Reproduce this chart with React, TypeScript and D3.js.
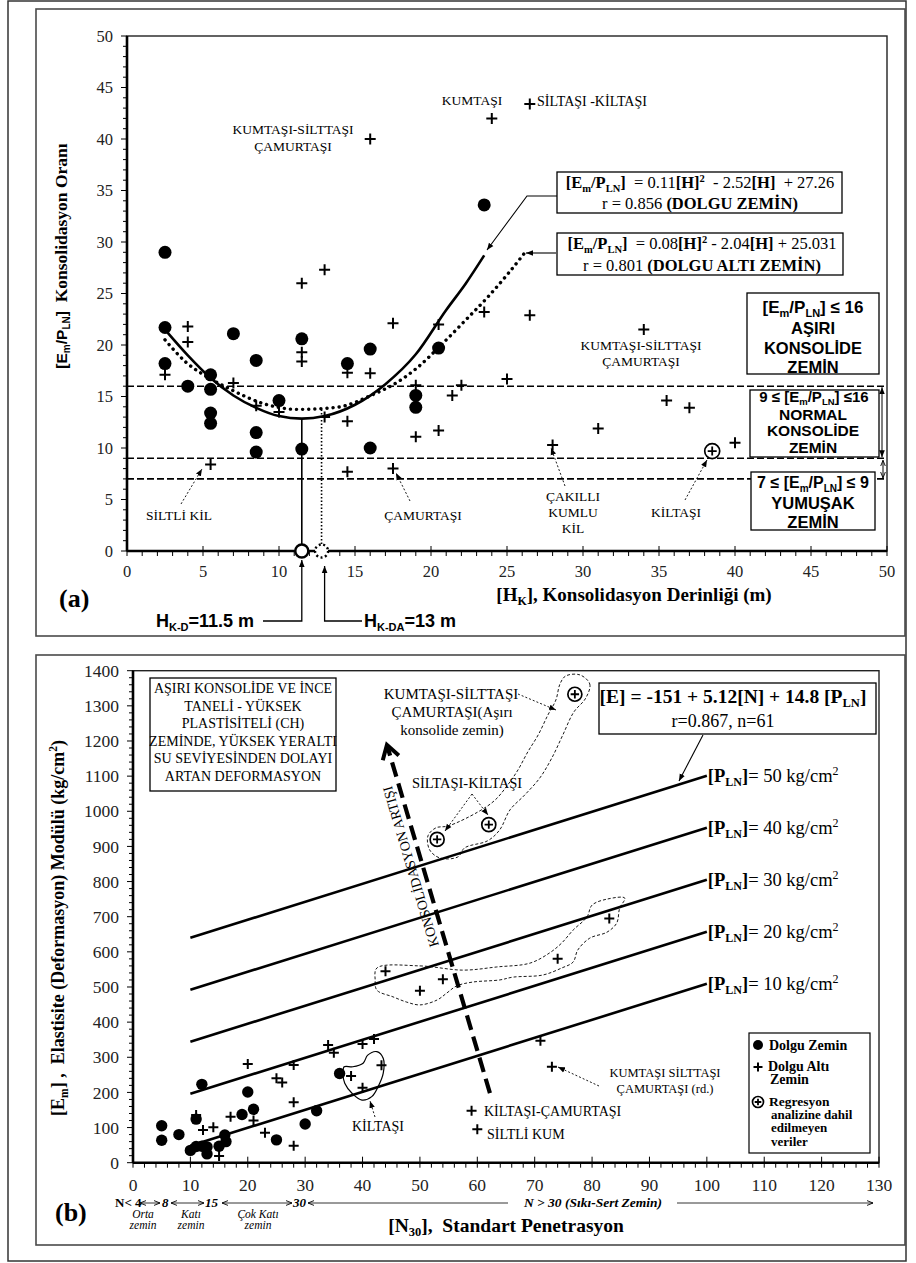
import React from "react";
import * as d3 from "d3";

// ---------------- Panel (a) data ----------------
const dolguA: [number, number][] = [
  [2.5, 29], [2.5, 21.7], [2.5, 18.2], [4, 16], [5.5, 17.1], [5.5, 15.7], [5.5, 13.4], [5.5, 12.4],
  [7, 21.1], [8.5, 18.5], [8.5, 11.5], [8.5, 9.6], [10, 14.6], [11.5, 20.6], [11.5, 9.9],
  [14.5, 18.2], [16, 19.6], [16, 10], [19, 15.1], [19, 13.95], [20.5, 19.7], [23.5, 33.6],
];
const dolguAltiA: [number, number][] = [
  [2.5, 17.1], [4, 21.8], [4, 20.3], [5.5, 8.4], [7, 16.3], [8.5, 14.1], [10, 13.5], [11.5, 26],
  [11.5, 19.3], [11.5, 18.4], [13, 27.3], [13, 13], [14.5, 17.3], [14.5, 12.6], [14.5, 7.7],
  [16, 40], [16, 17.25], [17.5, 22.1], [17.5, 8], [19, 16.1], [19, 11.1], [20.5, 22], [20.5, 11.7],
  [21.4, 15.1], [22, 16.1], [23.5, 23.2], [24, 42], [25, 16.7], [26.5, 43.4], [26.5, 22.9],
  [28, 10.3], [31, 11.9], [34, 21.5], [35.5, 14.6], [37, 13.9], [40, 10.5],
];
const excludedA: [number, number][] = [[38.5, 9.7]];
const fitDolgu: [number, number][] = [
  [2.5, 21.5], [4, 19], [5.5, 16.8], [7, 15.1], [8.5, 13.9], [10, 13.1], [11.5, 12.85], [13, 13.1],
  [15, 14.2], [17, 16.2], [19, 19.1], [21, 23.4], [22.3, 26], [23.5, 28.7],
];
const fitDolguAlti: [number, number][] = [
  [2.5, 20.5], [3.9, 18.3], [5.4, 16.8], [6.8, 15.7], [9, 14.3], [11.2, 13.75], [13.8, 13.95],
  [16.2, 15.2], [17.8, 16.4], [19.1, 17.8], [20.6, 19.9], [22.2, 22.3], [23.7, 24.6], [25, 26.8], [26.3, 29.2],
];
const classLimits = [16, 9, 7];
const hKD = 11.5;
const hKDA = 12.8;
const fitMinDolgu = 12.85;
const fitMinDolguAlti = 13.9;
const xTicksA = d3.range(0, 51, 5);
const yTicksA = d3.range(0, 51, 5);

// ---------------- Panel (b) data ----------------
const dolguB: [number, number][] = [
  [5, 105], [5, 64], [8, 80], [10, 35], [11, 46], [12, 47], [12.9, 45], [12.9, 25], [11, 124],
  [12, 223], [15, 47], [16, 79], [16.2, 60], [19, 137], [20, 201], [21, 152], [25, 65], [30, 110],
  [32, 148], [36, 254],
];
const dolguAltiB: [number, number][] = [
  [11, 136], [12.2, 93], [14, 101], [15, 19], [17, 131], [20, 281], [21, 120], [25, 240], [26, 228],
  [23, 85], [28, 278], [28, 172], [28, 48], [34, 335], [35, 313], [38, 247], [40, 338], [40, 213],
  [42, 352], [43.3, 277], [44, 545], [50, 489], [54, 522], [74, 580], [83, 695], [71, 347], [73, 273],
  [59, 148], [60, 95],
];
const excludedB: [number, number][] = [[53, 920], [62, 962], [77, 1333]];
const pLevels = [50, 40, 30, 20, 10];
const regIntercept = -151;
const regN = 5.12;
const regP = 14.8;
const nRange = [10, 100];
const xTicksB = d3.range(0, 131, 10);
const yTicksB = d3.range(0, 1401, 100);

// outlines drawn around groups of points
const regionTop: [number, number][] = [
  [77.9, 1388], [79.6, 1362], [78.9, 1322], [76.8, 1282], [74.9, 1217], [73.0, 1152], [70.9, 1095],
  [68.3, 1047], [65.7, 1004], [63.9, 947], [61.8, 916], [57.8, 896], [56.6, 870], [53.5, 867],
  [51.7, 890], [51.4, 930], [52.8, 953], [54.9, 958], [60.1, 998], [63.1, 1032], [65.3, 1075],
  [67.1, 1118], [68.8, 1169], [70.6, 1217], [72.3, 1274], [73.7, 1317], [74.4, 1362], [75.4, 1385],
];
const regionMid: [number, number][] = [
  [42.5, 554], [50, 560], [57.5, 548], [63.4, 557], [69.2, 568], [72.6, 597], [74.7, 625], [76.7, 662],
  [79.1, 699], [80, 733], [82.6, 750], [85.7, 753], [84.8, 724], [84.3, 682], [82.6, 656], [79.6, 639],
  [77.5, 605], [76.7, 571], [74.7, 554], [71.4, 534], [66.2, 528], [63.9, 520], [59.2, 514], [56.4, 503],
  [54.7, 483], [53, 463], [50, 449], [47.7, 457], [45.3, 472], [42.5, 491], [42.2, 520],
];
const regionKil: [number, number][] = [
  [36.8, 273], [38.3, 273], [40.1, 283], [40.9, 306], [42.5, 316], [43.6, 297], [43.6, 254],
  [42.7, 216], [41.6, 188], [39.9, 178], [38.2, 197], [36.9, 226], [36.6, 254],
];
const consolidationArrow: [number, number][] = [[62.2, 198], [44.25, 1189]];

const boxLines = [
  "AŞIRI KONSOLİDE VE  İNCE",
  "TANELİ - YÜKSEK",
  "PLASTİSİTELİ (CH)",
  "ZEMİNDE, YÜKSEK YERALTI",
  "SU SEVİYESİNDEN DOLAYI",
  "ARTAN DEFORMASYON",
];

const SERIF = "'Liberation Serif','DejaVu Serif',serif";
const SANS = "'Liberation Sans','DejaVu Sans',sans-serif";

const Plus = ({ x, y, s = 5.5, w = 2 }: any) => (
  <path d={`M${x - s},${y}H${x + s}M${x},${y - s}V${y + s}`} stroke="#000" strokeWidth={w} fill="none" />
);
const CPlus = ({ x, y, r = 7.5 }: any) => (
  <g>
    <circle cx={x} cy={y} r={r} fill="#fff" stroke="#000" strokeWidth={1.7} />
    <Plus x={x} y={y} s={r * 0.6} w={1.8} />
  </g>
);

// [Em/PLN] tspans
const emPln = (size: number, sub: number, family: string, tail = "") => [
  <tspan key="a" fontFamily={family} fontSize={size} fontWeight="bold">[E</tspan>,
  <tspan key="b" fontFamily={family} fontSize={sub} fontWeight="bold" dy={size * 0.22}>m</tspan>,
  <tspan key="c" fontFamily={family} fontSize={size} fontWeight="bold" dy={-size * 0.22}>/P</tspan>,
  <tspan key="d" fontFamily={family} fontSize={sub} fontWeight="bold" dy={size * 0.22}>LN</tspan>,
  <tspan key="e" fontFamily={family} fontSize={size} fontWeight="bold" dy={-size * 0.22}>]{tail}</tspan>,
];

export default function App() {
  const xA = d3.scaleLinear().domain([0, 50]).range([127, 887]);
  const yA = d3.scaleLinear().domain([0, 50]).range([551, 36]);
  const xB = d3.scaleLinear().domain([0, 130]).range([133, 879]);
  const yB = d3.scaleLinear().domain([0, 1400]).range([1162.7, 670.7]);

  const lineA = d3.line<[number, number]>().x((d) => xA(d[0])).y((d) => yA(d[1])).curve(d3.curveMonotoneX);
  const regLine = d3.line<[number, number]>().x((d) => xB(d[0])).y((d) => yB(d[1])).curve(d3.curveCatmullRomClosed.alpha(0.5));
  const eOf = (n: number, p: number) => regIntercept + regN * n + regP * p;

  const [ca0, ca1] = consolidationArrow;
  const cx0 = xB(ca0[0]), cy0 = yB(ca0[1]), cx1 = xB(ca1[0]), cy1 = yB(ca1[1]);
  const ang = Math.atan2(cy1 - cy0, cx1 - cx0);
  const angDeg = (ang * 180) / Math.PI;
  const headL = 16;
  const hA1 = ang + Math.PI - 0.55, hA2 = ang + Math.PI + 0.55;
  const tMid = 0.66;
  const mx = cx0 + (cx1 - cx0) * tMid, my = cy0 + (cy1 - cy0) * tMid;
  const nx = Math.cos(ang - Math.PI / 2) * 7, ny = Math.sin(ang - Math.PI / 2) * 7;

  const frame = "#4a4a4a";

  return (
    <svg width={916} height={1263} style={{ position: "absolute", left: 0, top: 0, background: "#fff" }} fontFamily={SERIF}>
      <defs>
        <marker id="ah" viewBox="0 0 10 10" refX="10" refY="5" markerWidth="7" markerHeight="7" orient="auto-start-reverse" markerUnits="userSpaceOnUse">
          <path d="M0,1 L10,5 L0,9 z" fill="#000" />
        </marker>
        <marker id="ahs" viewBox="0 0 10 10" refX="10" refY="5" markerWidth="6" markerHeight="6" orient="auto-start-reverse" markerUnits="userSpaceOnUse">
          <path d="M0,1 L10,5 L0,9" fill="none" stroke="#000" strokeWidth="1.5" />
        </marker>
      </defs>

      <rect x={8} y={1} width={898} height={1260} fill="none" stroke="#333" strokeWidth={1.5} />
      <rect x={36} y={9} width={869} height={627} fill="none" stroke={frame} strokeWidth={1.6} />
      <rect x={36} y={655} width={869} height={590} fill="none" stroke={frame} strokeWidth={1.6} />

      {/* ================= PANEL A ================= */}
      <g>
        <rect x={xA(0)} y={yA(50)} width={xA(50) - xA(0)} height={yA(0) - yA(50)} fill="none" stroke="#222" strokeWidth={1.4} />
        <line x1={xA(0)} x2={xA(50)} y1={yA(0)} y2={yA(0)} stroke="#000" strokeWidth={2.6} />
        <line x1={xA(0)} x2={xA(0)} y1={yA(0)} y2={yA(50)} stroke="#000" strokeWidth={2.6} />
        {d3.range(0, 51, 1).map((v) => (
          <g key={"ta" + v}>
            <line x1={xA(0) - (v % 5 === 0 ? 6 : 4)} x2={xA(0)} y1={yA(v)} y2={yA(v)} stroke="#000" strokeWidth={1} />
            <line x1={xA(v)} x2={xA(v)} y1={yA(0) - (v % 5 === 0 ? 5 : 0)} y2={yA(0) + 5} stroke="#000" strokeWidth={1} />
          </g>
        ))}
        {yTicksA.map((v) => (
          <text key={"yla" + v} x={xA(0) - 14} y={yA(v)} dy="0.35em" textAnchor="end" fontSize={16.5} fill="#222">{v}</text>
        ))}
        {xTicksA.map((v) => (
          <text key={"xla" + v} x={xA(v)} y={yA(0) + 26} textAnchor="middle" fontSize={16.5} fill="#222">{v}</text>
        ))}

        {classLimits.map((c) => (
          <line key={"cl" + c} x1={xA(0)} x2={xA(50) - 2} y1={yA(c)} y2={yA(c)} stroke="#000" strokeWidth={1.6} strokeDasharray="7,3" />
        ))}

        <path d={lineA(fitDolgu) || ""} fill="none" stroke="#000" strokeWidth={2.6} />
        <path d={lineA(fitDolguAlti) || ""} fill="none" stroke="#000" strokeWidth={3.4} strokeDasharray="0.1,6" strokeLinecap="round" />
        <line x1={xA(hKD)} x2={xA(hKD)} y1={yA(0)} y2={yA(fitMinDolgu)} stroke="#000" strokeWidth={1.6} />
        <line x1={xA(hKDA)} x2={xA(hKDA)} y1={yA(0)} y2={yA(fitMinDolguAlti)} stroke="#000" strokeWidth={1.6} strokeDasharray="1.5,2" />

        {dolguA.map((d, i) => (
          <circle key={"da" + i} cx={xA(d[0])} cy={yA(d[1])} r={6.5} fill="#000" />
        ))}
        {dolguAltiA.map((d, i) => (
          <Plus key={"pa" + i} x={xA(d[0])} y={yA(d[1])} s={5.5} w={2} />
        ))}
        {excludedA.map((d, i) => (
          <CPlus key={"ea" + i} x={xA(d[0])} y={yA(d[1])} r={7.5} />
        ))}

        <circle cx={xA(hKD)} cy={yA(0)} r={6.5} fill="#fff" stroke="#000" strokeWidth={2.4} />
        <circle cx={xA(hKDA)} cy={yA(0)} r={6.5} fill="#fff" stroke="#000" strokeWidth={2.4} strokeDasharray="2,2.5" />
        <path d={`M263,621H${xA(hKD)}V560`} fill="none" stroke="#000" strokeWidth={1.3} markerEnd="url(#ah)" />
        <path d={`M362,621H${xA(13)}V566`} fill="none" stroke="#000" strokeWidth={1.3} markerEnd="url(#ah)" />
        <text x={156} y={627} fontFamily={SANS} fontWeight="bold" fontSize={18}>
          H<tspan fontSize={11} dy={4}>K-D</tspan><tspan dy={-4}>=11.5 m</tspan>
        </text>
        <text x={364} y={627} fontFamily={SANS} fontWeight="bold" fontSize={18}>
          H<tspan fontSize={11} dy={4}>K-DA</tspan><tspan dy={-4}>=13 m</tspan>
        </text>

        <text transform="translate(67,256) rotate(-90)" textAnchor="middle">
          {emPln(15.5, 10, SANS)}
          <tspan fontFamily={SERIF} fontSize={17.5} fontWeight="bold">{"\u00a0\u00a0Konsolidasyon Oranı"}</tspan>
        </text>
        <text x={634} y={601} textAnchor="middle" fontWeight="bold" fontSize={19}>
          [H<tspan fontSize={12} dy={4}>K</tspan><tspan dy={-4}>], Konsolidasyon Derinliği (m)</tspan>
        </text>
        <text x={59} y={607} fontWeight="bold" fontSize={26}>(a)</text>

        {/* equation boxes */}
        <rect x={557} y={172} width={285} height={41} fill="#fff" stroke="#000" strokeWidth={1.3} />
        <text x={700} y={188} textAnchor="middle" fontSize={16.5}>
          {emPln(16.5, 10.5, SERIF)}
          <tspan>{"\u00a0\u00a0= 0.11"}</tspan><tspan fontWeight="bold">[H]</tspan>
          <tspan fontWeight="bold" fontSize={10.5} dy={-6}>2</tspan>
          <tspan dy={6}>{"\u00a0 - 2.52"}</tspan><tspan fontWeight="bold">[H]</tspan><tspan>{"\u00a0 + 27.26"}</tspan>
        </text>
        <text x={700} y={209} textAnchor="middle" fontSize={16.5}>
          r = 0.856 <tspan fontWeight="bold">(DOLGU ZEMİN)</tspan>
        </text>
        <path d={`M557,196H527L487,250`} fill="none" stroke="#000" strokeWidth={1.1} markerEnd="url(#ah)" />

        <rect x={557} y={233} width={286} height={42} fill="#fff" stroke="#000" strokeWidth={1.3} />
        <text x={702} y={249} textAnchor="middle" fontSize={16.5}>
          {emPln(16.5, 10.5, SERIF)}
          <tspan>{"\u00a0 = 0.08"}</tspan><tspan fontWeight="bold">[H]</tspan>
          <tspan fontWeight="bold" fontSize={10.5} dy={-6}>2</tspan>
          <tspan dy={6}>{" - 2.04"}</tspan><tspan fontWeight="bold">[H]</tspan><tspan>{" + 25.031"}</tspan>
        </text>
        <text x={702} y={271} textAnchor="middle" fontSize={16.5}>
          r = 0.801 <tspan fontWeight="bold">(DOLGU ALTI ZEMİN)</tspan>
        </text>
        <path d={`M556,253H526`} fill="none" stroke="#000" strokeWidth={1.1} markerEnd="url(#ah)" />

        {/* class boxes */}
        <rect x={747} y={293} width={132} height={81} fill="#fff" stroke="#000" strokeWidth={1.3} />
        <text x={813} y={313} textAnchor="middle">{emPln(17, 11, SANS, " ≤ 16")}</text>
        {["AŞIRI", "KONSOLİDE", "ZEMİN"].map((t, i) => (
          <text key={t} x={813} y={334 + i * 19.5} textAnchor="middle" fontFamily={SANS} fontWeight="bold" fontSize={16.5}>{t}</text>
        ))}
        <rect x={750} y={390} width={129} height={67} fill="#fff" stroke="#000" strokeWidth={1.3} />
        <text x={814} y={402} textAnchor="middle">
          <tspan fontFamily={SANS} fontWeight="bold" fontSize={15}>{"9 ≤ "}</tspan>
          {emPln(15, 9.5, SANS, " ≤16")}
        </text>
        {["NORMAL", "KONSOLİDE", "ZEMİN"].map((t, i) => (
          <text key={t} x={813} y={420 + i * 16.3} textAnchor="middle" fontFamily={SANS} fontWeight="bold" fontSize={15.5}>{t}</text>
        ))}
        <rect x={751} y={472} width={124} height={58} fill="#fff" stroke="#000" strokeWidth={1.3} />
        <text x={813} y={488} textAnchor="middle">
          <tspan fontFamily={SANS} fontWeight="bold" fontSize={16}>{"7 ≤ "}</tspan>
          {emPln(16, 10, SANS, " ≤ 9")}
        </text>
        {["YUMUŞAK", "ZEMİN"].map((t, i) => (
          <text key={t} x={813} y={509 + i * 19} textAnchor="middle" fontFamily={SANS} fontWeight="bold" fontSize={16.5}>{t}</text>
        ))}
        <line x1={882} x2={882} y1={yA(16) + 1} y2={yA(9) - 1} stroke="#000" strokeWidth={1} markerStart="url(#ah)" markerEnd="url(#ah)" />
        <line x1={883} x2={883} y1={yA(9) + 2} y2={yA(7) - 1} stroke="#000" strokeWidth={1} markerStart="url(#ahs)" markerEnd="url(#ahs)" />

        {/* lithology annotations */}
        <text x={293} y={134} textAnchor="middle" fontSize={13.5}>KUMTAŞI-SİLTTAŞI</text>
        <text x={293} y={151} textAnchor="middle" fontSize={13.5}>ÇAMURTAŞI</text>
        <text x={472} y={105} textAnchor="middle" fontSize={13.5}>KUMTAŞI</text>
        <text x={537} y={106} fontSize={14}>SİLTAŞI -KİLTAŞI</text>
        <text x={641} y={350} textAnchor="middle" fontSize={13.5}>KUMTAŞI-SİLTTAŞI</text>
        <text x={641} y={366} textAnchor="middle" fontSize={13.5}>ÇAMURTAŞI</text>
        <text x={179} y={520} textAnchor="middle" fontSize={13.5}>SİLTLİ KİL</text>
        <text x={423} y={520} textAnchor="middle" fontSize={13.5}>ÇAMURTAŞI</text>
        <text x={573} y={501} textAnchor="middle" fontSize={13.5}>ÇAKILLI</text>
        <text x={573} y={517} textAnchor="middle" fontSize={13.5}>KUMLU</text>
        <text x={573} y={533} textAnchor="middle" fontSize={13.5}>KİL</text>
        <text x={676} y={517} textAnchor="middle" fontSize={13.5}>KİLTAŞI</text>
        <line x1={181} y1={504} x2={202} y2={469} stroke="#000" strokeWidth={0.9} strokeDasharray="2,2" markerEnd="url(#ah)" />
        <line x1={410} y1={501} x2={396} y2={473} stroke="#000" strokeWidth={0.9} strokeDasharray="2,2" markerEnd="url(#ah)" />
        <line x1={565} y1={486} x2={551} y2={448} stroke="#000" strokeWidth={0.9} strokeDasharray="2,2" markerEnd="url(#ah)" />
        <line x1={685} y1={500} x2={707} y2={460} stroke="#000" strokeWidth={0.9} strokeDasharray="2,2" markerEnd="url(#ah)" />
      </g>

      {/* ================= PANEL B ================= */}
      <g>
        <rect x={xB(0)} y={yB(1400)} width={xB(130) - xB(0)} height={yB(0) - yB(1400)} fill="none" stroke="#222" strokeWidth={1.4} />
        <line x1={xB(0)} x2={xB(130)} y1={yB(0)} y2={yB(0)} stroke="#000" strokeWidth={2.6} />
        <line x1={xB(0)} x2={xB(0)} y1={yB(0)} y2={yB(1400)} stroke="#000" strokeWidth={2.6} />
        {d3.range(0, 1401, 20).map((v) => (
          <line key={"tyb" + v} x1={xB(0) - (v % 100 === 0 ? 6 : 4)} x2={xB(0)} y1={yB(v)} y2={yB(v)} stroke="#000" strokeWidth={1} />
        ))}
        {d3.range(0, 131, 2).map((v) => (
          <line key={"txb" + v} x1={xB(v)} x2={xB(v)} y1={yB(0) - (v % 10 === 0 ? 6 : 0)} y2={yB(0) + 5} stroke="#000" strokeWidth={1} />
        ))}
        {yTicksB.map((v) => (
          <text key={"ylb" + v} x={xB(0) - 14} y={yB(v)} dy="0.35em" textAnchor="end" fontSize={17.5} fill="#222">{v}</text>
        ))}
        {xTicksB.map((v) => (
          <text key={"xlb" + v} x={xB(v)} y={yB(0) + 28} textAnchor="middle" fontSize={17.5} fill="#222">{v}</text>
        ))}

        {pLevels.map((p) => (
          <g key={"pl" + p}>
            <line x1={xB(nRange[0])} y1={yB(eOf(nRange[0], p))} x2={xB(nRange[1])} y2={yB(eOf(nRange[1], p))} stroke="#000" strokeWidth={2.6} />
            <text x={xB(nRange[1]) + 1} y={yB(eOf(nRange[1], p)) + 6} fontSize={18.5}>
              <tspan fontWeight="bold">[P</tspan><tspan fontWeight="bold" fontSize={12} dy={4}>LN</tspan>
              <tspan fontWeight="bold" dy={-4}>]</tspan><tspan>{"= " + p + " kg/cm"}</tspan>
              <tspan fontSize={12} dy={-7}>2</tspan>
            </text>
          </g>
        ))}

        <path d={regLine(regionTop) || ""} fill="none" stroke="#000" strokeWidth={0.9} strokeDasharray="3,2" />
        <path d={regLine(regionMid) || ""} fill="none" stroke="#000" strokeWidth={0.9} strokeDasharray="3,2" />
        <path d={regLine(regionKil) || ""} fill="none" stroke="#000" strokeWidth={1.2} />

        <line x1={cx0} y1={cy0} x2={cx1} y2={cy1} stroke="#000" strokeWidth={4.2} strokeDasharray="15,7" />
        <path
          d={`M${cx1 + headL * Math.cos(hA1)},${cy1 + headL * Math.sin(hA1)}L${cx1},${cy1}L${cx1 + headL * Math.cos(hA2)},${cy1 + headL * Math.sin(hA2)}`}
          fill="none" stroke="#000" strokeWidth={4} />
        <text transform={`translate(${mx + nx},${my + ny}) rotate(${angDeg})`} textAnchor="middle" fontSize={14}>KONSOLİDASYON ARTIŞI</text>

        {dolguB.map((d, i) => (
          <circle key={"db" + i} cx={xB(d[0])} cy={yB(d[1])} r={5.7} fill="#000" />
        ))}
        {dolguAltiB.map((d, i) => (
          <Plus key={"pb" + i} x={xB(d[0])} y={yB(d[1])} s={5} w={2} />
        ))}
        {excludedB.map((d, i) => (
          <CPlus key={"eb" + i} x={xB(d[0])} y={yB(d[1])} r={7} />
        ))}

        <rect x={599} y={683} width={277} height={51} fill="#fff" stroke="#000" strokeWidth={1.3} />
        <text x={733} y={703} textAnchor="middle" fontWeight="bold" fontSize={19.5}>
          [E] = -151 + 5.12[N] + 14.8 [P<tspan fontSize={12.5} dy={4}>LN</tspan><tspan dy={-4}>]</tspan>
        </text>
        <text x={723} y={727} textAnchor="middle" fontSize={18}>r=0.867, n=61</text>
        <line x1={703} y1={735} x2={679} y2={781} stroke="#000" strokeWidth={1.1} markerEnd="url(#ah)" />

        <rect x={150} y={678} width={186} height={113} fill="#fff" stroke="#000" strokeWidth={1.3} />
        {boxLines.map((t, i) => (
          <text key={t} x={243} y={693 + i * 17.6} textAnchor="middle" fontSize={14}>{t}</text>
        ))}

        <text x={451} y={699} textAnchor="middle" fontSize={15}>KUMTAŞI-SİLTTAŞI</text>
        <text x={452} y={717} textAnchor="middle" fontSize={15}>ÇAMURTAŞI(Aşırı</text>
        <text x={452} y={735} textAnchor="middle" fontSize={15}>konsolide zemin)</text>
        <line x1={518} y1={694} x2={556} y2={710} stroke="#000" strokeWidth={0.9} strokeDasharray="2,2" markerEnd="url(#ah)" />
        <text x={467} y={788} textAnchor="middle" fontSize={14.5}>SİLTAŞI-KİLTAŞI</text>
        <path d="M472,794L445,831" fill="none" stroke="#000" strokeWidth={0.9} strokeDasharray="2,2" markerEnd="url(#ah)" />
        <path d="M472,794L488,815" fill="none" stroke="#000" strokeWidth={0.9} strokeDasharray="2,2" markerEnd="url(#ah)" />
        <text x={378} y={1131} textAnchor="middle" fontSize={14}>KİLTAŞI</text>
        <line x1={375} y1={1117} x2={370} y2={1101} stroke="#000" strokeWidth={0.9} strokeDasharray="2,2" markerEnd="url(#ah)" />
        <text x={665} y={1077} textAnchor="middle" fontSize={12.5}>KUMTAŞI SİLTTAŞI</text>
        <text x={665} y={1093} textAnchor="middle" fontSize={12.5}>ÇAMURTAŞI (rd.)</text>
        <line x1={599} y1={1086} x2={558} y2={1067} stroke="#000" strokeWidth={0.9} strokeDasharray="2,2" markerEnd="url(#ah)" />
        <text x={484} y={1116} fontSize={14}>KİLTAŞI-ÇAMURTAŞI</text>
        <text x={487} y={1139} fontSize={14}>SİLTLİ KUM</text>

        {/* legend */}
        <rect x={749} y={1033} width={121} height={120} fill="#fff" stroke="#000" strokeWidth={1.2} />
        <circle cx={758} cy={1045} r={5} fill="#000" />
        <text x={769} y={1050} fontWeight="bold" fontSize={14}>Dolgu Zemin</text>
        <Plus x={758} y={1067} s={4.5} w={2} />
        <text x={768} y={1071} fontWeight="bold" fontSize={14}>Dolgu Altı</text>
        <text x={770} y={1084} fontWeight="bold" fontSize={14}>Zemin</text>
        <CPlus x={758} y={1102} r={5.5} />
        <text x={769} y={1106} fontWeight="bold" fontSize={13.5}>Regresyon</text>
        <text x={771} y={1119} fontWeight="bold" fontSize={13}>analizine dahil</text>
        <text x={771} y={1132} fontWeight="bold" fontSize={13}>edilmeyen</text>
        <text x={771} y={1146} fontWeight="bold" fontSize={13}>veriler</text>

        {/* N classes row */}
        <text x={115} y={1207} fontWeight="bold" fontSize={13}>N&lt; 4</text>
        <line x1={140} x2={160} y1={1203} y2={1203} stroke="#000" strokeWidth={0.8} markerStart="url(#ahs)" markerEnd="url(#ahs)" />
        <text x={162} y={1207} fontWeight="bold" fontStyle="italic" fontSize={13}>8</text>
        <line x1={171} x2={204} y1={1203} y2={1203} stroke="#000" strokeWidth={0.8} markerStart="url(#ahs)" markerEnd="url(#ahs)" />
        <text x={205} y={1207} fontWeight="bold" fontStyle="italic" fontSize={13}>15</text>
        <line x1={222} x2={292} y1={1203} y2={1203} stroke="#000" strokeWidth={0.8} markerStart="url(#ahs)" markerEnd="url(#ahs)" />
        <text x={293} y={1207} fontWeight="bold" fontStyle="italic" fontSize={13}>30</text>
        <line x1={308} x2={508} y1={1203} y2={1203} stroke="#000" strokeWidth={0.8} markerStart="url(#ahs)" />
        <text x={593} y={1207} textAnchor="middle" fontWeight="bold" fontStyle="italic" fontSize={13.5}>N &gt; 30 (Sıkı-Sert Zemin)</text>
        <line x1={677} x2={873} y1={1203} y2={1203} stroke="#000" strokeWidth={0.8} markerEnd="url(#ahs)" />
        {[["Orta", 143], ["Katı", 191], ["Çok Katı", 258]].map(([t, x]) => (
          <g key={t as string}>
            <text x={x as number} y={1218} textAnchor="middle" fontStyle="italic" fontSize={11.5}>{t}</text>
            <text x={x as number} y={1229} textAnchor="middle" fontStyle="italic" fontSize={11.5}>zemin</text>
          </g>
        ))}

        <text transform="translate(64,928) rotate(-90)" textAnchor="middle" fontWeight="bold" fontSize={18}>
          [E<tspan fontSize={11.5} dy={4}>m</tspan><tspan dy={-4}>{"]\u00a0,\u00a0\u00a0Elastisite (Deformasyon) Modülü (kg/cm"}</tspan>
          <tspan fontSize={11.5} dy={-7}>2</tspan><tspan dy={7}>)</tspan>
        </text>
        <text x={506} y={1232} textAnchor="middle" fontWeight="bold" fontSize={19.5}>
          [N<tspan fontSize={12.5} dy={4}>30</tspan><tspan dy={-4}>{"],\u00a0\u00a0Standart Penetrasyon"}</tspan>
        </text>
        <text x={55} y={1221} fontWeight="bold" fontSize={26}>(b)</text>
      </g>
    </svg>
  );
}
